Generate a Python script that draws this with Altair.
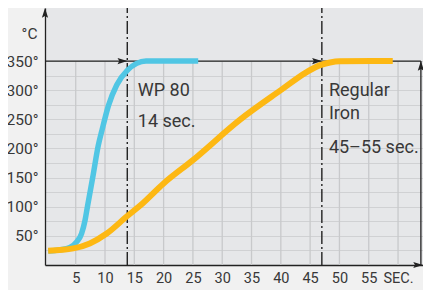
import altair as alt
import pandas as pd

# ---- data ----
wp80_t = [0.3, 2.3, 4.0, 5.2, 6.0, 6.6, 7.0, 7.9, 8.85, 9.5, 10.6, 12.0, 13.8, 15.4, 17.0, 25.9]
wp80_v = [24, 26, 30, 40, 54, 77, 100, 150, 205, 232, 274, 309, 334, 346, 350, 350]

iron_t = [0.3, 4.6, 7.4, 10.3, 13.8, 16.0, 20.0, 25.0, 33.0, 40.0, 44.4, 46.7, 48.4, 50.0, 59.1]
iron_v = [24.5, 28.5, 37, 54, 84, 102, 140, 180, 249, 300, 331, 343, 347.5, 349.5, 350]

x_ticks = [5, 10, 15, 20, 25, 30, 35, 40, 45, 50, 55, 60]
y_grid = [25, 50, 75, 100, 125, 150, 175, 200, 225, 250, 275, 300, 325, 350]
markers_t = [13.8, 47.0]          # dash-dot lines (WP 80, Regular Iron)
target_temp = 350
right_arrow_t = 63.9

ann_text = ["WP 80", "14 sec.", "Regular", "Iron", "45\u201355 sec."]
ann_t = [15.6, 15.6, 48.2, 48.2, 48.2]
ann_v = [290, 236, 290, 250, 193]

X_MIN, X_MAX = -0.24, 64.26
Y_MIN, Y_MAX = 0, 441

FONT = "Roboto, Liberation Sans, sans-serif"
INK = "#222222"
TXT = "#383838"
ARROW = "M0,0L0.32,1L0,0.82L-0.32,1Z"

xs = alt.Scale(domain=[X_MIN, X_MAX], nice=False, zero=False)
ys = alt.Scale(domain=[Y_MIN, Y_MAX], nice=False, zero=False)

x_axis = alt.Axis(values=x_ticks, labelExpr="datum.value == 60 ? 'SEC.' : datum.value",
                  grid=False, ticks=False, domain=True, domainColor=INK, domainWidth=1.3,
                  labelFont=FONT, labelFontSize=14.5, labelColor=TXT, labelPadding=6,
                  labelAngle=0, labelOverlap=False, labelFlush=False, title=None)
y_axis = alt.Axis(values=y_grid, labelExpr="datum.value % 50 == 0 ? datum.value + '\u00b0' : ''",
                  grid=True, gridColor="#d0d1d3", gridWidth=1, ticks=False, domain=True,
                  domainColor=INK, domainWidth=1.3, labelFont=FONT, labelFontSize=15.5,
                  labelColor=TXT, labelPadding=7, labelOverlap=False, labelFlush=False,
                  title="\u00b0C", titleAngle=0, titleAlign="right", titleBaseline="alphabetic",
                  titleX=-8, titleY=30, titleFont=FONT, titleFontSize=15.5,
                  titleFontWeight="normal", titleColor=TXT)

X = lambda f: alt.X(f, scale=xs, axis=x_axis)
Y = lambda f: alt.Y(f, scale=ys, axis=y_axis)

# vertical grid rules (only up to 350)
vgrid_df = pd.DataFrame({"t": x_ticks, "y0": [0] * len(x_ticks), "y1": [target_temp] * len(x_ticks)})
vgrid = alt.Chart(vgrid_df).mark_rule(color="#c8c9cb", strokeWidth=1.3).encode(
    x=X("t:Q"), y=Y("y0:Q"), y2="y1:Q")

# horizontal 350 line and right vertical arrow line
hline_df = pd.DataFrame({"x0": [X_MIN], "x1": [right_arrow_t], "v": [target_temp]})
hline = alt.Chart(hline_df).mark_rule(color=INK, strokeWidth=1.3).encode(
    x=X("x0:Q"), x2="x1:Q", y=Y("v:Q"))

vline_df = pd.DataFrame({"t": [right_arrow_t], "y0": [0], "y1": [target_temp]})
vline = alt.Chart(vline_df).mark_rule(color=INK, strokeWidth=1.3).encode(
    x=X("t:Q"), y=Y("y0:Q"), y2="y1:Q")

# dash-dot marker lines
dd_df = pd.DataFrame({"t": markers_t, "y0": [Y_MIN] * 2, "y1": [Y_MAX] * 2})
dashdot = alt.Chart(dd_df).mark_rule(color=INK, strokeWidth=1.4, strokeDash=[13, 3, 2, 3]).encode(
    x=X("t:Q"), y=Y("y0:Q"), y2="y1:Q")

# curves
wp_df = pd.DataFrame({"t": wp80_t, "v": wp80_v})
iron_df = pd.DataFrame({"t": iron_t, "v": iron_v})
wp_line = alt.Chart(wp_df).mark_line(color="#50c6e4", strokeWidth=5.5, interpolate="monotone",
                                     strokeCap="butt").encode(x=X("t:Q"), y=Y("v:Q"))
iron_line = alt.Chart(iron_df).mark_line(color="#fdb813", strokeWidth=6, interpolate="monotone",
                                         strokeCap="butt").encode(x=X("t:Q"), y=Y("v:Q"))

# arrowheads
right_df = pd.DataFrame({"t": markers_t + [X_MAX], "v": [target_temp, target_temp, 0]})
right_arrows = alt.Chart(right_df).mark_point(shape=ARROW, size=380, filled=True, color=INK,
                                              opacity=1, angle=90).encode(x=X("t:Q"), y=Y("v:Q"))
up_df = pd.DataFrame({"t": [X_MIN, right_arrow_t], "v": [Y_MAX, target_temp]})
up_arrows = alt.Chart(up_df).mark_point(shape=ARROW, size=380, filled=True, color=INK,
                                        opacity=1).encode(x=X("t:Q"), y=Y("v:Q"))

# annotations
ann_df = pd.DataFrame({"txt": ann_text, "t": ann_t, "v": ann_v})
ann = alt.Chart(ann_df).mark_text(align="left", baseline="alphabetic", font=FONT, fontSize=18,
                                  color=TXT).encode(x=X("t:Q"), y=Y("v:Q"), text="txt:N")

chart = alt.layer(vgrid, dashdot, hline, vline, wp_line, iron_line, right_arrows, up_arrows, ann).properties(
    width=378, height=257,
    autosize=alt.AutoSizeParams(type="none"),
    padding={"left": 37, "top": 0, "right": 0, "bottom": 25},
    background="#f1f1f1",
).configure_view(fill="#e6e7e9", stroke=None).configure_axis(labelOverlap=False)

chart.save("out.html", embed_options={"renderer": "svg", "actions": False})
